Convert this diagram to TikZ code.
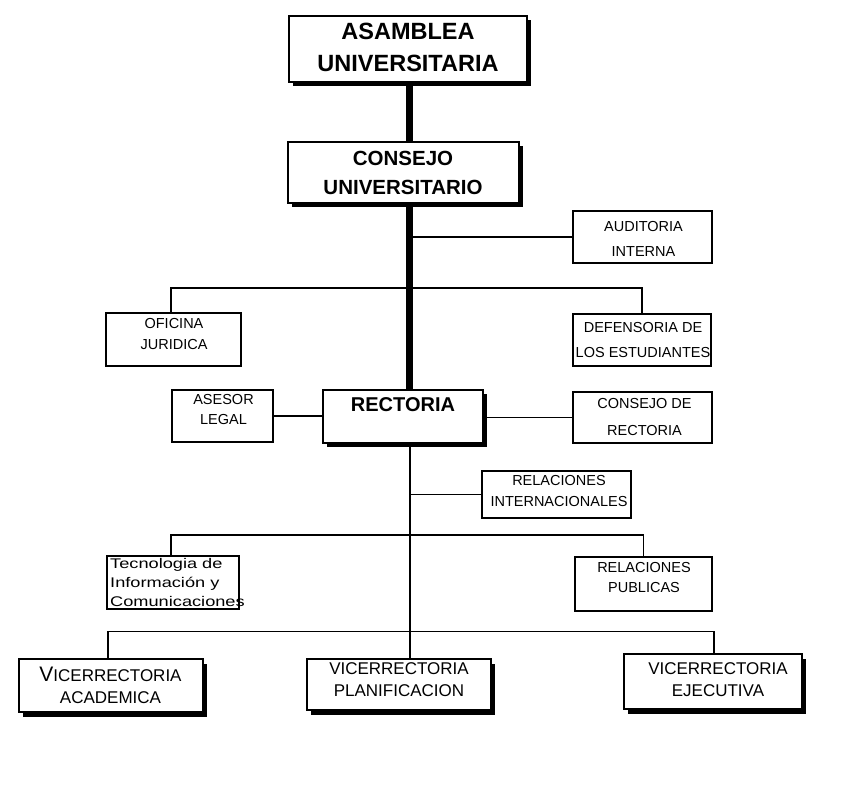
\documentclass[tikz,border=0pt]{standalone}
\usepackage{fontspec}
\setmainfont{Liberation Sans}
\newfontfamily\widefont[FakeStretch=1.3]{Liberation Sans}
\usetikzlibrary{shadows}
\tikzset{
  box/.style={draw, line width=1.5pt, fill=white, inner sep=0pt},
  sbox/.style={box, line width=1.8pt, drop shadow={shadow xshift=4pt, shadow yshift=-4.5pt, opacity=1, fill=black}},
  txt/.style={inner sep=0pt, align=center},
  link/.style={line width=1.5pt},
  trunkline/.style={line width=7pt},
}
\begin{document}
\begin{tikzpicture}[x=1pt,y=-1pt]
\useasboundingbox[fill=white] (0,0) rectangle (841,791);
\coordinate (tk) at (409.5,0);
\coordinate (tn) at (410,0);
% boxes
\node[sbox, minimum width=238pt, minimum height=66pt] (asam) at (408,49) {};
\node[txt, font=\fontsize{23.5}{32}\selectfont\bfseries] (asamt) at (408,47.5) {ASAMBLEA\\UNIVERSITARIA};
\node[sbox, minimum width=231pt, minimum height=61pt] (cons) at (403.5,172.5) {};
\node[txt, font=\fontsize{20.5}{29}\selectfont\bfseries] (const) at (403,173) {CONSEJO\\UNIVERSITARIO};
\node[box, minimum width=139pt, minimum height=52pt] (aud) at (642.5,237) {};
\node[txt, font=\fontsize{14.5}{25}\selectfont] (audt) at (643.5,238.5) {AUDITORIA\\INTERNA};
\node[box, minimum width=135pt, minimum height=53pt] (ofi) at (173.5,339.5) {};
\node[txt, font=\fontsize{14.5}{21}\selectfont] (ofit) at (174,334.5) {OFICINA\\JURIDICA};
\node[box, minimum width=138pt, minimum height=52pt] (def) at (642,340) {};
\node[txt, font=\fontsize{14.5}{25}\selectfont] (deft) at (643,340.5) {DEFENSORIA DE\\LOS ESTUDIANTES};
\node[box, minimum width=101pt, minimum height=52pt] (ases) at (222.5,416) {};
\node[txt, font=\fontsize{14.5}{20}\selectfont] (asest) at (223.5,410) {ASESOR\\LEGAL};
\node[sbox, minimum width=160pt, minimum height=53pt] (rect) at (403,416.5) {};
\node[txt, font=\fontsize{20}{24}\selectfont\bfseries, anchor=base] (rectt) at (403,412) {RECTORIA};
\node[box, minimum width=139pt, minimum height=51pt] (cr) at (642.5,417.5) {};
\node[txt, font=\fontsize{14.5}{27}\selectfont] (crt) at (644.5,417.5) {CONSEJO DE\\RECTORIA};
\node[box, minimum width=149pt, minimum height=47pt] (ri) at (556.5,494.5) {};
\node[txt, font=\fontsize{14.5}{21}\selectfont] (rit) at (559,491.5) {RELACIONES\\INTERNACIONALES};
\node[box, minimum width=132pt, minimum height=53pt] (tec) at (173,582.5) {};
\node[txt, align=left, anchor=west, font=\widefont\fontsize{14}{19}\selectfont] (tect) at (110,582) {Tecnologia de\\Información y\\Comunicaciones};
\node[box, minimum width=137pt, minimum height=54pt] (rp) at (643.5,584) {};
\node[txt, font=\fontsize{14.5}{20}\selectfont] (rpt) at (644,578) {RELACIONES\\PUBLICAS};
\node[sbox, minimum width=184pt, minimum height=53pt] (va) at (111,685.5) {};
\node[txt, font=\fontsize{17}{22}\selectfont] (vat) at (110.5,685) {{\fontsize{21}{22}\selectfont V}ICERRECTORIA\\ACADEMICA};
\node[sbox, minimum width=184pt, minimum height=51pt] (vp) at (399,684.5) {};
\node[txt, font=\fontsize{17}{22}\selectfont] (vpt) at (399,680) {VICERRECTORIA\\PLANIFICACION};
\node[sbox, minimum width=178pt, minimum height=55pt] (ve) at (713,681.5) {};
\node[txt, font=\fontsize{17}{22}\selectfont] (vet) at (718,680) {VICERRECTORIA\\EJECUTIVA};
% bus coordinates
\coordinate (bus1) at (409.5,288);
\coordinate (bus2) at (410,535);
\coordinate (bus3) at (410,631.5);
% connectors
\draw[trunkline] (asam.south -| tk) -- (cons.north -| tk);
\draw[trunkline] (cons.south -| tk) -- (rect.north -| tk);
\draw[link] (aud.west) -- (aud.west -| tk);
\draw[link] ([xshift=-2.5pt]ofi.north) |- (bus1) -| (def.north);
\draw[link] (ases.east) -- (ases.east -| rect.west);
\draw[link] (cr.west) -- (cr.west -| rect.east);
\draw[link] (rect.south -| tn) -- (vp.north -| tn);
\draw[link] (ri.west) -- (ri.west -| tn);
\draw[link] ([xshift=-2pt]tec.north) |- (bus2) -| (rp.north);
\draw[link] ([xshift=-3pt]va.north) |- (bus3) -| ([xshift=1pt]ve.north);
\end{tikzpicture}
\end{document}
